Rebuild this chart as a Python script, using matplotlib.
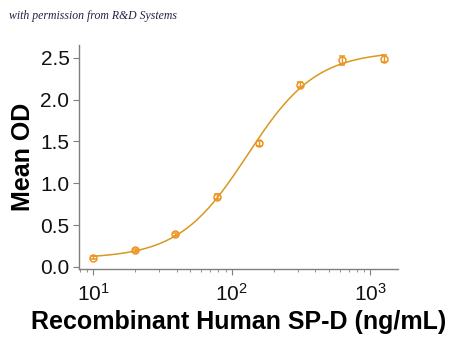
import numpy as np
import matplotlib
matplotlib.use("Agg")
import matplotlib.pyplot as plt
from matplotlib.ticker import LogLocator, FixedLocator, NullFormatter

conc = [10, 20, 39, 78, 156, 312.5, 625, 1250]
od = [0.11, 0.20, 0.39, 0.84, 1.48, 2.18, 2.47, 2.49]
err = [0.02, 0.02, 0.02, 0.03, 0.03, 0.03, 0.05, 0.04]

# 4PL fit to the data by coarse grid search
x = np.array(conc, float)
y = np.array(od, float)
best = None
for bot in np.linspace(0.0, 0.15, 16):
    for top in np.linspace(2.4, 2.7, 31):
        for lc in np.linspace(np.log10(80), np.log10(250), 60):
            for h in np.linspace(1.0, 2.2, 25):
                pred = bot + (top - bot) / (1 + (10**lc / x) ** h)
                s = np.sum((pred - y) ** 2)
                if best is None or s < best[0]:
                    best = (s, bot, top, 10**lc, h)
_, bot, top, ec50, hill = best
xf = np.logspace(np.log10(conc[0]), np.log10(conc[-1]), 300)
yf = bot + (top - bot) / (1 + (ec50 / xf) ** hill)

plt.rcParams['font.family'] = ['Liberation Sans', 'DejaVu Sans']
fig = plt.figure(figsize=(4.5, 3.43), dpi=100)
ax = fig.add_axes([0.176, 0.216, 0.709, 0.653])

line_c = '#D9981E'
mark_c = '#EE9420'
ax.plot(xf, yf, color=line_c, lw=1.1, zorder=2)
ax.errorbar(conc, od, yerr=err, fmt='o', ms=5, mfc='none', mec=mark_c, mew=1.1,
            ecolor=mark_c, elinewidth=1.0, capsize=2.5, capthick=1.0, zorder=3)

ax.set_xscale('log')
ax.set_xlim(7.9, 1590)
ax.set_ylim(-0.024, 2.655)
ax.set_yticks([0.0, 0.5, 1.0, 1.5, 2.0, 2.5])
ax.set_yticklabels(['0.0', '0.5', '1.0', '1.5', '2.0', '2.5'])
ax.xaxis.set_major_locator(FixedLocator([10, 100, 1000]))
ax.xaxis.set_minor_locator(LogLocator(base=10, subs=np.arange(2, 10)))
ax.xaxis.set_minor_formatter(NullFormatter())

for s in ['top', 'right']:
    ax.spines[s].set_visible(False)
for s in ['left', 'bottom']:
    ax.spines[s].set_color('#7F7F7F')
    ax.spines[s].set_linewidth(1.0)

ax.tick_params(axis='both', which='major', length=4, color='#7F7F7F', labelsize=15, labelcolor='#111111')
ax.tick_params(axis='x', which='minor', length=2.5, color='#7F7F7F')
ax.tick_params(axis='x', which='major', pad=6)
ax.tick_params(axis='y', which='major', pad=3)

ax.set_ylabel('Mean OD', fontsize=18, fontweight='bold', labelpad=4)
ax.set_xlabel('Recombinant Human SP-D (ng/mL)', fontsize=18, fontweight='bold', labelpad=4)

fig.text(0.02, 0.945, 'with permission from R&D Systems', fontsize=8.5,
         style='italic', family=['Liberation Serif', 'DejaVu Serif'], color='#222244')

fig.savefig('out.png', dpi=100)
